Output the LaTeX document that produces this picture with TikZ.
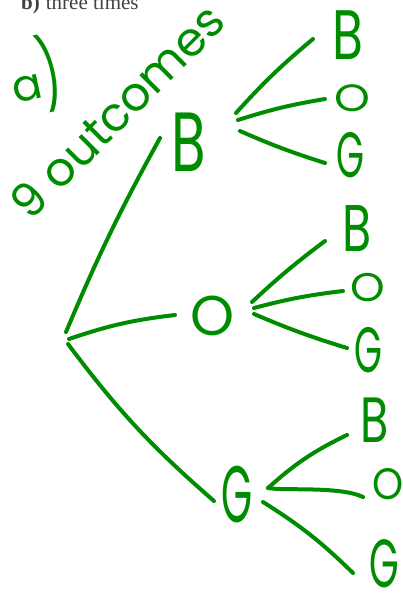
\documentclass[tikz,border=0pt]{standalone}
\usepackage{fontspec}
\usetikzlibrary{calc}
\setmainfont{Liberation Serif}
\newfontfamily\handfont{Poppins}
\newcommand\hwsize[1]{\fontsize{#1}{#1}\selectfont}
\definecolor{hand}{RGB}{0,140,0}
\tikzset{
  hw/.style={text=hand, inner sep=0pt},
  conn/.style={draw=hand, line width=4pt, line cap=round, line join=round},
}
\begin{document}
\begin{tikzpicture}[x=1pt,y=-1pt]
\useasboundingbox (0,0) rectangle (403,597);
% header (cut off)
\node[anchor=base west, inner sep=0pt, text=black!75, font=\hwsize{21}] (title) at (21,9.5) {\textbf{b)}\hspace{6pt}three times};
% annotations
\node[hw, font=\handfont\hwsize{44}, rotate=12] (alabel) at (35,76) {a\raisebox{-4pt}{\scalebox{1}[1.6]{)}}};
\node[hw, font=\handfont\hwsize{47}, rotate=45] (count) at (117,111) {9 outcomes};
% first level
\node[hw, font=\handfont\hwsize{84}, xscale=0.67] (B1) at (189,142) {B};
\node[hw, font=\handfont\hwsize{56}] (O1) at (213,316) {O};
\node[hw, font=\handfont\hwsize{80}, xscale=0.5] (G1) at (237,495) {G};
% second level
\node[hw, font=\handfont\hwsize{70}, xscale=0.72] (BB) at (348,35) {B};
\node[hw, font=\handfont\hwsize{38}, xscale=1.2] (BO) at (352,98) {O};
\node[hw, font=\handfont\hwsize{64}, xscale=0.56] (BG) at (350,155) {G};
\node[hw, font=\handfont\hwsize{66}, xscale=0.72] (OB) at (357,228) {B};
\node[hw, font=\handfont\hwsize{40}, xscale=1.1] (OO) at (368,288) {O};
\node[hw, font=\handfont\hwsize{64}, xscale=0.56] (OG) at (368,350) {G};
\node[hw, font=\handfont\hwsize{64}, xscale=0.72] (GB) at (375,420) {B};
\node[hw, font=\handfont\hwsize{44}, xscale=0.9] (GO) at (388,484) {O};
\node[hw, font=\handfont\hwsize{68}, xscale=0.56] (GG) at (384,564) {G};
% connector ends
\coordinate (root) at (66,336);
\coordinate (B1in) at (160,138);
\coordinate (O1in) at (175,315);
\coordinate (G1in) at (214,501);
\coordinate (B1out) at (238,120);
\coordinate (O1out) at (254,308);
\coordinate (G1out) at (268,488);
\coordinate (BBin) at (313,39);
\coordinate (BOin) at (325,99);
\coordinate (BGin) at (325,163);
\coordinate (OBin) at (325,241);
\coordinate (OOin) at (343,291);
\coordinate (OGin) at (347,348);
\coordinate (GBin) at (347,435);
\coordinate (GOin) at (363,497);
\coordinate (GGin) at (353,573);
% connectors
\draw[conn] ($(root)+(0,-4)$) to[bend left=3] (B1in);
\draw[conn] ($(root)+(3,3)$) to[bend left=6] (O1in);
\draw[conn] ($(root)+(2,8)$) to[bend right=6] (G1in);
\draw[conn] ($(B1out)+(-2,-7)$) to[bend left=4] (BBin);
\draw[conn] (B1out) to[bend left=4] (BOin);
\draw[conn] ($(B1out)+(2,11)$) to[bend right=3] (BGin);
\draw[conn] ($(O1out)+(-2,-6)$) to[bend left=3] (OBin);
\draw[conn] (O1out) to[bend left=4] (OOin);
\draw[conn] ($(O1out)+(0,6)$) to[bend right=3] (OGin);
\draw[conn] (G1out) to[bend left=8] (GBin);
\draw[conn] (G1out) .. controls (285,491) and (340,486) .. (GOin);
\draw[conn] ($(G1out)+(-5,14)$) to[bend left=6] (GGin);
\end{tikzpicture}
\end{document}
